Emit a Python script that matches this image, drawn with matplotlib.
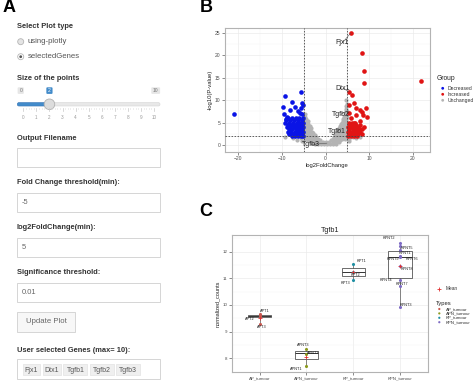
import matplotlib
matplotlib.use("Agg")
import matplotlib.pyplot as plt
from matplotlib.patches import Rectangle, Circle, FancyBboxPatch

plt.rcParams["font.family"] = ["Liberation Sans", "DejaVu Sans"]

W, H = 474, 382

# ---------------- panel A : shiny inputs ----------------
radio_options = ["using-plotly", "selectedGenes"]
radio_selected = 1
slider_min, slider_max, slider_value = 0, 10, 2
input_labels = ["Output Filename", "Fold Change threshold(min):",
                "log2FoldChange(min):", "Significance threshold:"]
input_values = ["", "-5", "5", "0.01"]
selected_genes = ["Fjx1", "Dtx1", "Tgfb1", "Tgfb2", "Tgfb3"]

# ---------------- panel B : volcano ----------------
dec_levels = [6.0, 5.5, 5.0, 4.5, 4.0, 3.5, 3.0, 2.5, 2.1]
dec_rows = [
    [-5.2, -6.0, -6.9, -7.8, -8.6],
    [-5.5, -6.3, -7.2, -8.1, -9.0],
    [-5.1, -5.9, -6.6, -7.5, -8.4, -9.2],
    [-5.4, -6.2, -7.0, -7.9, -8.7],
    [-5.2, -5.8, -6.5, -7.3, -8.1, -8.9],
    [-5.5, -6.1, -6.8, -7.6, -8.5],
    [-5.1, -5.7, -6.4, -7.1, -7.9, -8.6],
    [-5.3, -6.0, -6.6, -7.4, -8.3],
    [-5.1, -5.6, -6.3, -7.0, -7.7],
]
dec_extra_x = [-21.1, -9.35, -5.75, -7.6, -9.7, -9.6, -5.3, -5.2, -5.7, -8.2,
               -7.0, -5.8, -6.4, -5.5, -9.1, -8.8]
dec_extra_y = [7.0, 11.0, 11.7, 9.5, 8.4, 7.0, 9.3, 8.8, 8.2, 7.8,
               8.5, 7.1, 7.6, 6.9, 5.8, 6.3]

inc_levels = [5.0, 4.5, 4.0, 3.5, 3.0, 2.5, 2.1]
inc_rows = [
    [5.3, 6.0, 6.8],
    [5.6, 6.3, 7.1, 7.9],
    [5.2, 5.9, 6.6, 7.4],
    [5.5, 6.2, 6.9, 7.7, 8.4],
    [5.1, 5.8, 6.5, 7.2, 8.0],
    [5.4, 6.1, 6.8, 7.5, 8.3],
    [5.2, 5.9, 6.6, 7.3],
]
inc_extra_x = [5.75, 8.4, 8.8, 8.8, 22.0, 5.35, 6.1, 6.5, 5.5, 9.35, 7.9,
               8.4, 8.5, 5.4, 7.1, 7.9, 9.5, 8.8, 6.5, 6.9, 5.9]
inc_extra_y = [24.9, 20.4, 16.5, 13.7, 14.2, 11.9, 11.1, 9.3, 8.8, 8.2, 7.8,
               7.3, 6.6, 7.1, 6.6, 5.3, 6.2, 4.0, 5.0, 8.3, 6.0]

unc_levels = [0.2, 0.6, 1.0, 1.4, 1.8, 2.2, 2.6, 3.0, 3.4, 3.8, 4.2, 4.6,
              5.0, 5.4, 5.8, 6.2, 6.6, 7.0, 7.5, 8.0, 8.6, 9.2, 10.0]
unc_rows = [
    [-2.4, -1.7, -1.0, -0.3, 0.4, 1.1, 1.8, 2.5],
    [-3.3, -2.6, -1.9, -1.2, -0.5, 0.2, 0.9, 1.6, 2.3, 3.0],
    [-4.0, -3.3, -2.6, -1.9, -1.2, 1.3, 2.0, 2.7, 3.4],
    [-4.6, -3.9, -3.2, -2.5, -1.8, 1.6, 2.3, 3.0, 3.7, 4.4],
    [-4.9, -4.2, -3.5, -2.8, -2.1, 1.9, 2.6, 3.3, 4.0, 4.7],
    [-4.6, -3.9, -3.2, -2.5, 2.2, 2.9, 3.6, 4.3, 4.9],
    [-4.9, -4.2, -3.5, -2.8, 2.4, 3.1, 3.8, 4.5],
    [-4.6, -3.9, -3.2, 2.6, 3.3, 4.0, 4.7],
    [-4.9, -4.2, -3.5, 2.8, 3.5, 4.2, 4.9],
    [-4.6, -3.9, -3.3, 3.0, 3.7, 4.4],
    [-4.9, -4.2, -3.6, 3.3, 4.0, 4.7],
    [-4.6, -4.0, 3.5, 4.2, 4.9],
    [-4.9, -4.3, 3.7, 4.4],
    [-4.7, -4.1, 3.9, 4.6],
    [-4.9, -4.4, 4.1, 4.8],
    [-4.7, 4.3, 4.9],
    [-4.9, 4.5],
    [-4.8, 4.7],
    [4.6, 4.9],
    [4.8],
    [4.7],
    [4.9],
    [4.8],
]
unc_extra_x = [-9.2, -7.5, -6.5, -5.6, 8.0, 7.0, 6.2, 5.5, -5.3, 5.3]
unc_extra_y = [1.8, 1.5, 1.2, 1.6, 1.8, 1.5, 1.7, 1.3, 0.9, 0.8]

gene_names = ["Fjx1", "Dtx1", "Tgfb2", "Tgfb1", "Tgfb3"]
gene_x = [5.75, 5.35, 4.6, 3.4, 0.3]
gene_y = [24.9, 11.9, 7.4, 3.6, 0.4]
gene_label_x = [3.9, 4.0, 3.5, 2.7, -3.4]
gene_label_y = [22.8, 12.6, 6.8, 3.0, 0.1]

# ---------------- panel C : Tgfb1 counts ----------------
types = ["AP_tumour", "APN_tumour", "KP_tumour", "KPN_tumour"]
type_colors = ["#C8574F", "#8C9A1E", "#1F8FA3", "#7E6BC4"]
ap_vals = [9.65, 9.60, 9.28]
ap_names = ["APT1", "APT2", "APT3"]
apn_vals = [8.35, 8.15, 7.70]
apn_names = ["APNT3", "APNT2", "APNT1"]
kp_vals = [11.53, 11.22, 10.92]
kp_names = ["KPT1", "KPT2", "KPT3"]
kpn_vals = [12.33, 12.20, 12.05, 11.85, 11.80, 11.45, 10.95, 10.72, 9.92]
kpn_names = ["KPNT2", "KPNT5", "KPNT1", "KPNT9", "KPNT6", "KPNT8",
             "KPNT4", "KPNT7", "KPNT3"]
box_q1 = [9.56, 7.96, 11.08, 11.00]
box_med = [9.60, 8.22, 11.22, 11.80]
box_q3 = [9.63, 8.27, 11.38, 12.02]
box_lo = [9.28, 7.70, 10.92, 9.92]
box_hi = [9.65, 8.35, 11.53, 12.33]

# label offsets (pixels, up is positive) for the sample names in panel C
lab_off = [
    [(5, 3), (-10, -3), (2, -3)],
    [(-3, 4), (7, 1), (-10, -3)],
    [(8, 3), (2, -3), (-8, -3)],
    [(-11, 5), (7, -2), (5, -3), (-7, -3), (12, -2), (7, -3),
     (-14, 0), (2, 2), (6, 2)],
]

fig = plt.figure(figsize=(W / 100, H / 100), dpi=100)
ax0 = fig.add_axes([0, 0, 1, 1])
ax0.set_xlim(0, W)
ax0.set_ylim(H, 0)
ax0.axis("off")


def frac(l, t, r, b):
    return [l / W, 1 - b / H, (r - l) / W, (b - t) / H]


def txt(x, y, s, size=5.4, weight="normal", color="#333333", ha="left", **kw):
    ax0.text(x, y, s, fontsize=size, fontweight=weight, color=color,
             ha=ha, va="center", **kw)


# panel letters
txt(2.5, 8, "A", size=13, weight="bold", color="black")
txt(199.5, 8, "B", size=13, weight="bold", color="black")
txt(199.5, 212, "C", size=13, weight="bold", color="black")

# ----- panel A widgets -----
txt(17, 26, "Select Plot type", weight="bold")
for i, opt in enumerate(radio_options):
    cy = 41.7 + 15 * i
    ax0.add_patch(Circle((20.7, cy), 3.0, facecolor="#e4e4e4" if i != radio_selected else "white",
                         edgecolor="#b5b5b5", lw=0.6))
    if i == radio_selected:
        ax0.add_patch(Circle((20.7, cy), 1.4, facecolor="#555555", lw=0))
    txt(28, cy, opt, size=5.6, color="#555555")

txt(17, 78, "Size of the points", weight="bold")
x0s, dxs = 23.3, 13.07
ax0.add_patch(FancyBboxPatch((17.3, 102.6), 142.7, 3.4, boxstyle="round,pad=0,rounding_size=1.7",
                             facecolor="#e8e8e8", edgecolor="#d4d4d4", lw=0.4))
hx = x0s + slider_value * dxs
ax0.add_patch(FancyBboxPatch((17.3, 102.6), hx - 17.3, 3.4, boxstyle="round,pad=0,rounding_size=1.7",
                             facecolor="#428bca", edgecolor="#3a7bbf", lw=0.4))
for v in range(slider_min, slider_max + 1):
    px = x0s + v * dxs
    ax0.plot([px, px], [107.5, 110.5], color="#c8c8c8", lw=0.5)
    if v < slider_max:
        for k in range(1, 5):
            mx = px + k * dxs / 5
            ax0.plot([mx, mx], [107.5, 109], color="#d8d8d8", lw=0.4)
    txt(px, 117.3, str(v), size=3.3, color="#999999", ha="center")
ax0.add_patch(Circle((hx, 104.3), 5.3, facecolor="#dcdcdc", edgecolor="#b0b0b0", lw=0.6))
for lx, s, fc, tc in [(20.7, str(slider_min), "#e6e6e6", "#777777"),
                      (hx, str(slider_value), "#428bca", "white"),
                      (155.7, str(slider_max), "#e6e6e6", "#777777")]:
    bw = 3.6 + 2.6 * len(s)
    ax0.add_patch(FancyBboxPatch((lx - bw / 2, 87.3), bw, 6.6,
                                 boxstyle="round,pad=0,rounding_size=1",
                                 facecolor=fc, lw=0))
    txt(lx, 90.7, s, size=3.6, color=tc, ha="center")

label_y = [138.3, 182.7, 227.7, 272.7]
box_top = [147.7, 192.7, 237.7, 282.7]
for lab, val, ly, bt in zip(input_labels, input_values, label_y, box_top):
    txt(17, ly, lab, weight="bold")
    ax0.add_patch(Rectangle((17.3, bt), 142.7, 19.3, facecolor="white",
                            edgecolor="#cfcfcf", lw=0.6))
    txt(21.7, bt + 9.8, val, size=5.4, color="#666666")

ax0.add_patch(Rectangle((17.3, 311.7), 57.7, 20, facecolor="#f7f7f7",
                        edgecolor="#cfcfcf", lw=0.6))
txt(46.2, 321.7, "Update Plot", size=5.6, color="#666666", ha="center")

txt(17, 350.7, "User selected Genes (max= 10):", weight="bold")
ax0.add_patch(Rectangle((17.3, 359.3), 142.7, 20, facecolor="white",
                        edgecolor="#cfcfcf", lw=0.6))
cx = 22.7
for g in selected_genes:
    cw = 6.0 * len(g) - 6.3
    ax0.add_patch(Rectangle((cx, 364.3), cw, 11, facecolor="#efefef",
                            edgecolor="#dddddd", lw=0.4))
    txt(cx + cw / 2, 370, g, size=5.0, color="#555555", ha="center")
    cx += cw + 2.7


def gg_style(ax):
    ax.set_facecolor("white")
    ax.grid(True, which="major", color="#ebebeb", lw=0.5)
    ax.grid(True, which="minor", color="#f4f4f4", lw=0.3)
    ax.set_axisbelow(True)
    for sp in ax.spines.values():
        sp.set_color("#b3b3b3")
        sp.set_linewidth(0.8)
    ax.tick_params(which="major", length=2, width=0.4, color="#333333",
                   labelsize=3.6, labelcolor="#4d4d4d", pad=1.2)
    ax.tick_params(which="minor", length=0)


# ----- panel B -----
axB = fig.add_axes(frac(225, 28.3, 430, 151.7))
gg_style(axB)
unc_x, unc_y = list(unc_extra_x), list(unc_extra_y)
for lv, row in zip(unc_levels, unc_rows):
    unc_x += row
    unc_y += [lv] * len(row)
dec_x, dec_y = list(dec_extra_x), list(dec_extra_y)
for lv, row in zip(dec_levels, dec_rows):
    dec_x += row
    dec_y += [lv] * len(row)
inc_x, inc_y = list(inc_extra_x), list(inc_extra_y)
for lv, row in zip(inc_levels, inc_rows):
    inc_x += row
    inc_y += [lv] * len(row)
axB.scatter(unc_x, unc_y, s=9, color="#b4b4b4", lw=0, zorder=2)
axB.scatter(dec_x, dec_y, s=11, color="#0a14e6", lw=0, zorder=3)
axB.scatter(inc_x, inc_y, s=11, color="#e01414", lw=0, zorder=3)
for xv in (-5, 5):
    axB.axvline(xv, color="#444444", lw=0.6, ls=(0, (2, 1.6)), zorder=4)
axB.axhline(2, color="#444444", lw=0.6, ls=(0, (2, 1.6)), zorder=4)
for name, gx, gy, lx, ly in zip(gene_names, gene_x, gene_y, gene_label_x, gene_label_y):
    axB.plot([gx, lx], [gy, ly], color="#555555", lw=0.4, zorder=5)
    axB.text(lx, ly, name, fontsize=5, color="#222222", ha="center", va="center", zorder=6)
axB.set_xlim(-23.1, 24)
axB.set_ylim(-1.5, 26)
axB.set_xticks([-20, -10, 0, 10, 20])
axB.set_xticks([-15, -5, 5, 15], minor=True)
axB.set_yticks([0, 5, 10, 15, 20, 25])
axB.set_yticks([2.5, 7.5, 12.5, 17.5, 22.5], minor=True)
axB.set_xlabel("log2FoldChange", fontsize=4.2, color="#222222", labelpad=1.5)
axB.set_ylabel("-log10(P-value)", fontsize=4.2, color="#222222", labelpad=1.5)

txt(437, 79, "Group", size=4.8, color="#222222")
for i, (lab, col) in enumerate([("Decreased", "#0a14e6"), ("Increased", "#e01414"),
                                ("Unchanged", "#b4b4b4")]):
    yy = 88.3 + 6 * i
    ax0.add_patch(Circle((442.7, yy), 1.4, facecolor=col, lw=0))
    txt(448, yy, lab, size=3.6, color="#333333")

# ----- panel C -----
axC = fig.add_axes(frac(231.7, 235, 428, 372))
gg_style(axC)
stats = []
for i in range(4):
    stats.append(dict(q1=box_q1[i], med=box_med[i], q3=box_q3[i],
                      whislo=box_lo[i], whishi=box_hi[i], fliers=[]))
axC.bxp(stats, positions=[1, 2, 3, 4], widths=0.5, showfliers=False, showcaps=False,
        patch_artist=True,
        boxprops=dict(facecolor="white", edgecolor="#333333", lw=0.5),
        medianprops=dict(color="#333333", lw=0.7),
        whiskerprops=dict(color="#555555", lw=0.5))
groups = [(ap_vals, ap_names), (apn_vals, apn_names), (kp_vals, kp_names), (kpn_vals, kpn_names)]
for i, (vals, names) in enumerate(groups):
    pos = i + 1
    axC.scatter([pos] * len(vals), vals, s=5, color=type_colors[i], lw=0, zorder=4)
    mean = sum(vals) / len(vals)
    axC.scatter([pos], [mean], s=6, marker="+", color="#e03030", lw=0.6, zorder=5)
    for v, nm, (dx, dy) in zip(vals, names, lab_off[i]):
        axC.annotate(nm, (pos, v), xytext=(dx * 0.72, dy * 0.72), textcoords="offset points",
                     fontsize=2.8, color="#222222", ha="center", va="center", zorder=6)
axC.set_xlim(0.4, 4.6)
axC.set_ylim(7.49, 12.62)
axC.set_xticks([1, 2, 3, 4])
axC.set_xticklabels(types)
axC.set_yticks([8, 9, 10, 11, 12])
axC.set_yticks([8.5, 9.5, 10.5, 11.5, 12.5], minor=True)
axC.tick_params(axis="both", labelsize=3.2)
axC.set_ylabel("normalized_counts", fontsize=4.0, color="#222222", labelpad=2)
axC.set_title("Tgfb1", fontsize=5.2, color="#222222", pad=2)

ax0.plot([439.3], [289], marker="+", ms=2.5, mew=0.6, color="#e03030")
txt(446, 289, "Mean", size=3.4, color="#333333")
txt(436, 303, "Types", size=4.2, color="#222222")
for i, (lab, col) in enumerate(zip(types, type_colors)):
    yy = 309 + 4.4 * i
    ax0.add_patch(Circle((439.3, yy), 1.1, facecolor=col, lw=0))
    txt(446, yy, lab, size=3.2, color="#333333")

fig.savefig("out.png", dpi=100)
